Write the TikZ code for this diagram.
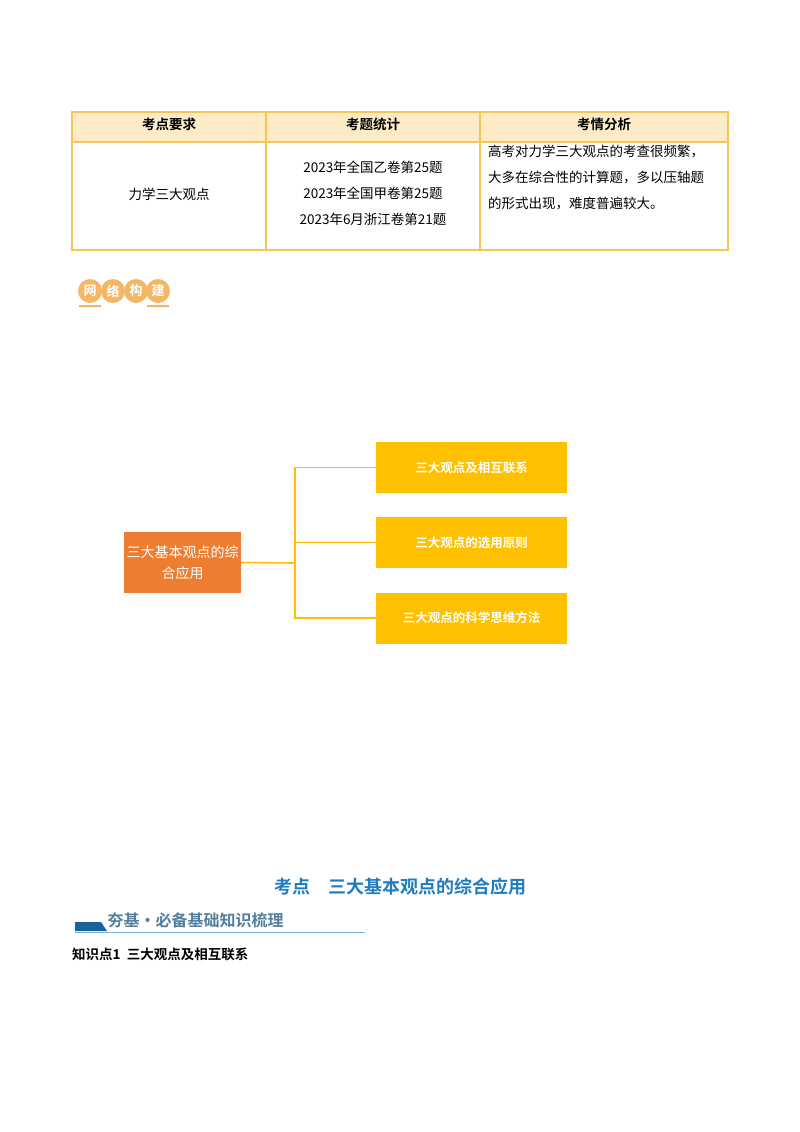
\documentclass[tikz,border=0pt]{standalone}
\usepackage{fontspec}
\setmainfont{Noto Sans CJK SC}[BoldFont={Noto Sans CJK SC Bold}]
\begin{document}
\begin{tikzpicture}[x=1pt,y=-1pt,
 tb/.style={font=\fontsize{13.5}{18}\selectfont,align=center},
 hd/.style={font=\fontsize{13.5}{14}\selectfont\bfseries},
 ybox/.style={fill=yc,minimum width=191pt,minimum height=51pt,font=\fontsize{12.5}{13}\selectfont\bfseries,text=white},
 conn/.style={draw=yc,line width=1.6pt},
 lg/.style={circle,fill=lc,minimum size=24pt,inner sep=0pt,text=white,font=\fontsize{13}{12}\selectfont\bfseries}]
\definecolor{yc}{HTML}{FFC000}
\definecolor{oc}{HTML}{ED7D31}
\definecolor{bd}{HTML}{F5C555}
\definecolor{hf}{HTML}{FCEBC6}
\definecolor{lc}{HTML}{F3B766}
\definecolor{bl}{HTML}{1F7DC1}
\useasboundingbox (0,0) rectangle (800,1132);
\fill[white] (0,0) rectangle (800,1132);
% table
\fill[hf] (72,112) rectangle (728,142);
\draw[bd,line width=1.6pt] (72,112) rectangle (728,250);
\draw[bd,line width=1.6pt] (72,142) -- (728,142) (266,112) -- (266,250) (480,112) -- (480,250);
\node[hd] (h1) at (169,124) {考点要求};
\node[hd] (h2) at (373,124) {考题统计};
\node[hd] (h3) at (604,124) {考情分析};
\node[tb] (c1) at (169,194) {力学三大观点};
\node[tb,font=\fontsize{13.5}{26}\selectfont] (c2) at (373,193) {2023年全国乙卷第25题\\2023年全国甲卷第25题\\2023年6月浙江卷第21题};
\node[tb,align=left,anchor=north west,font=\fontsize{13.5}{26}\selectfont,inner sep=0pt] (c3) at (488,145) {高考对力学三大观点的考查很频繁，\\大多在综合性的计算题，多以压轴题\\的形式出现，难度普遍较大。};
% logo
\node[lg] (l1) at (90,291) {网};
\node[lg] (l2) at (113,291) {络};
\node[lg] (l3) at (136,291) {构};
\node[lg] (l4) at (158,291) {建};
\fill[lc] (79,305) rectangle (101,307) (147,305) rectangle (169,307);
% mind map
\node[fill=oc,minimum width=117pt,minimum height=61pt,text=white,align=center,font=\fontsize{14}{21}\selectfont,inner sep=0pt] (root) at (182.5,562.5) {三大基本观点的综\\合应用};
\node[ybox] (b1) at (471.5,467.5) {三大观点及相互联系};
\node[ybox] (b2) at (471.5,542.5) {三大观点的选用原则};
\node[ybox] (b3) at (471.5,618) {三大观点的科学思维方法};
\coordinate (j) at (295,563);
\draw[conn] (root.east) -- (j);
\draw[conn] (j) |- (b1.west);
\draw[conn] (j) |- (b2.west);
\draw[conn] (j) |- (b3.west);
% bottom
\node[text=bl,font=\fontsize{18}{20}\selectfont\bfseries] (t) at (400,887) {考点\quad 三大基本观点的综合应用};
\fill[fill=bl!80!black] (75,922) -- (101,922) -- (107,931) -- (75,931) -- cycle;
\draw[bl!60,line width=0.8pt] (75,932.5) -- (365,932.5);
\node[anchor=west,text=bl!45!gray,font=\fontsize{16}{18}\selectfont\bfseries] (bn) at (104,920) {夯基·必备基础知识梳理};
\node[anchor=west,font=\fontsize{13.5}{15}\selectfont\bfseries,inner sep=0pt] (kp) at (72,954) {知识点1\ \ 三大观点及相互联系};
\end{tikzpicture}
\end{document}
